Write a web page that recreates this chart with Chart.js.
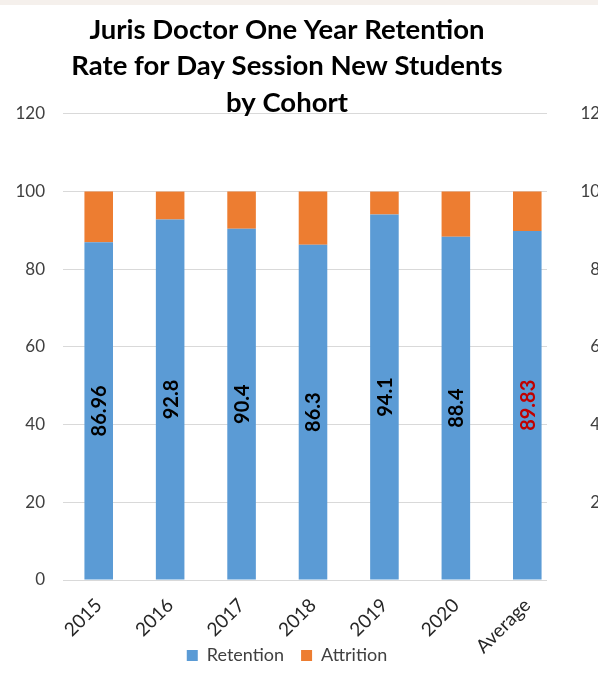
<!DOCTYPE html>
<html>
<head>
<meta charset="utf-8">
<script src="https://cdn.jsdelivr.net/npm/chart.js@4.4.1/dist/chart.umd.min.js"></script>
<style>
html, body { margin: 0; padding: 0; background: #fff; overflow: hidden; }
#wrap { position: relative; width: 598px; height: 684px; }
#strip { position: absolute; left: 0; top: 0; width: 598px; height: 5px; background: #f5f0ec; }
</style>
</head>
<body>
<div id="wrap">
  <canvas id="retentionChart" width="598" height="684"></canvas>
  <div id="strip"></div>
</div>
<script>
const cohorts = ['2015', '2016', '2017', '2018', '2019', '2020', 'Average'];
const retention = [86.96, 92.8, 90.4, 86.3, 94.1, 88.4, 89.83];
const attrition = [13.04, 7.2, 9.6, 13.7, 5.9, 11.6, 10.17];
const yTicks = [0, 20, 40, 60, 80, 100, 120];
const labelColors = ['#000', '#000', '#000', '#000', '#000', '#000', '#c00000'];

Chart.defaults.font.family = 'Lato';

// labels inside the blue bars, turned up
const barLabels = {
    id: 'barLabels',
    afterDatasetsDraw(chart) {
        const ctx = chart.ctx;
        const meta = chart.getDatasetMeta(0);
        ctx.save();
        ctx.font = 'bold 20px Lato';
        ctx.textAlign = 'center';
        ctx.textBaseline = 'middle';
        meta.data.forEach((bar, i) => {
            ctx.save();
            ctx.translate(bar.x, (bar.y + bar.base) / 2);
            ctx.rotate(-Math.PI / 2);
            ctx.fillStyle = labelColors[i];
            ctx.fillText(String(retention[i]), 0, 1);
            ctx.restore();
        });
        ctx.restore();
    }
};

// the next chart's axis peeks in at the right edge
const edgeAxis = {
    id: 'edgeAxis',
    afterDraw(chart) {
        const ctx = chart.ctx;
        const y = chart.scales.y;
        ctx.save();
        ctx.font = '17px Lato';
        ctx.fillStyle = '#404040';
        ctx.textAlign = 'right';
        ctx.textBaseline = 'middle';
        yTicks.forEach(v => ctx.fillText(String(v), 610, y.getPixelForValue(v)));
        ctx.restore();
    }
};

// categories run a bit past the gridlines in the original
const stretchX = {
    id: 'stretchX',
    afterLayout(chart) {
        const x = chart.scales.x;
        x.right += 16;
        x.width += 16;
        x.configure();
        x._computeLabelArea = () => undefined; // let "Average" hang down next to the legend
    }
};

new Chart(document.getElementById('retentionChart'), {
    type: 'bar',
    data: {
        labels: cohorts,
        datasets: [
            { label: 'Retention', data: retention, backgroundColor: '#5b9bd5' },
            { label: 'Attrition', data: attrition, backgroundColor: '#ed7d31' }
        ]
    },
    options: {
        responsive: false,
        animation: false,
        categoryPercentage: 1,
        barPercentage: 0.4,
        layout: { padding: { left: 0, right: 24, top: 0, bottom: 9.5 } },
        plugins: {
            title: {
                display: true,
                text: ['Juris Doctor One Year Retention', 'Rate for Day Session New Students', 'by Cohort'],
                color: '#000',
                font: { size: 27.5, weight: 'bold', lineHeight: 1.32 },
                padding: { top: 12, bottom: -7 }
            },
            legend: {
                position: 'bottom',
                labels: { boxWidth: 11, boxHeight: 11, color: '#404040', font: { size: 18 }, padding: 17 }
            },
            tooltip: { enabled: false }
        },
        scales: {
            x: {
                stacked: true,
                afterFit: s => { s.height = 49.5; },
                grid: { display: false },
                border: { display: false },
                ticks: { minRotation: 45, maxRotation: 45, padding: 6, color: '#262626', font: { size: 19 } }
            },
            y: {
                stacked: true,
                min: 0,
                max: 120,
                afterBuildTicks: s => { s.ticks = yTicks.map(v => ({ value: v })); },
                afterFit: s => { s.width = 63; },
                grid: { color: '#d9d9d9', drawTicks: false },
                border: { display: false },
                ticks: { padding: 18, color: '#404040', font: { size: 17 } }
            },
            y2: {
                position: 'right',
                min: 0,
                max: 120,
                afterFit: s => { s.width = 27; },
                grid: { display: false, drawTicks: false },
                border: { display: false },
                ticks: { display: false }
            }
        }
    },
    plugins: [barLabels, edgeAxis, stretchX]
});
</script>
</body>
</html>
